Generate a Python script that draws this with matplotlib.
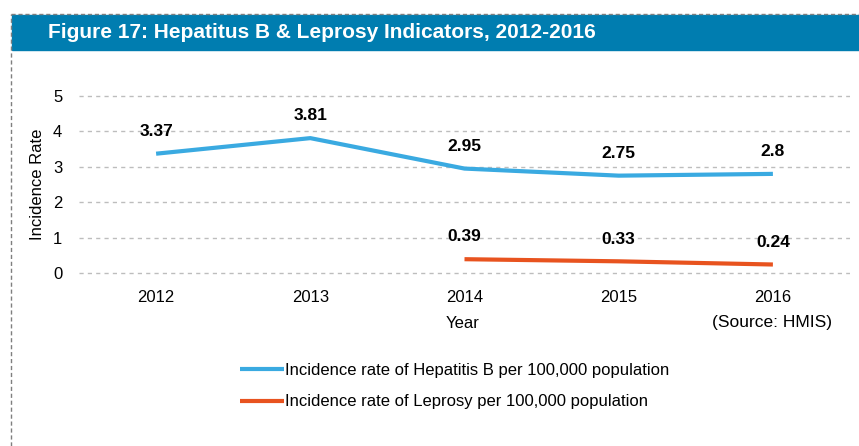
import matplotlib.pyplot as plt
from matplotlib.lines import Line2D
from matplotlib.patches import Rectangle

years = ["2012", "2013", "2014", "2015", "2016"]
hep_b = [3.37, 3.81, 2.95, 2.75, 2.8]
leprosy_years = ["2014", "2015", "2016"]
leprosy = [0.39, 0.33, 0.24]
yticks = [0, 1, 2, 3, 4, 5]

blue = "#3AAAE1"
orange = "#E8531F"
banner = "#007DB0"

plt.rcParams["font.family"] = ["Liberation Sans", "DejaVu Sans"]

W, H = 859, 446
fig = plt.figure(figsize=(W / 100, H / 100), dpi=100)

# banner + dashed frame
fig.patches.append(Rectangle((12 / W, 1 - 50 / H), 1, 35 / H, transform=fig.transFigure,
                             color=banner, zorder=0))
fig.text(48 / W, 1 - 33 / H, "Figure 17: Hepatitus B & Leprosy Indicators, 2012-2016",
         color="white", fontsize=15, fontweight="bold", va="center", ha="left")
fig.lines.append(Line2D([11 / W, 1], [1 - 14 / H, 1 - 14 / H], transform=fig.transFigure,
                        color="#7f7f7f", lw=1, ls=(0, (3, 2))))
fig.lines.append(Line2D([11 / W, 11 / W], [0, 1 - 14 / H], transform=fig.transFigure,
                        color="#7f7f7f", lw=1, ls=(0, (3, 2))))

# axes: y=0 at 273px, y=5 at 96px
unit = 177 / 5
ylo, yhi = -0.05, 5.05
top_px = 96 - (yhi - 5) * unit
bot_px = 273 + (0 - ylo) * unit
ax = fig.add_axes([79 / W, 1 - bot_px / H, (850 - 79) / W, (bot_px - top_px) / H])
ax.set_xlim(-0.5, 4.5)
ax.set_ylim(ylo, yhi)

xpos = {y: i for i, y in enumerate(years)}
ax.plot([xpos[y] for y in years], hep_b, color=blue, lw=3, solid_capstyle="butt",
        label="Incidence rate of Hepatitis B per 100,000 population")
ax.plot([xpos[y] for y in leprosy_years], leprosy, color=orange, lw=3, solid_capstyle="butt",
        label="Incidence rate of Leprosy per 100,000 population")

for y, v in zip(years, hep_b):
    ax.annotate(f"{v:g}", (xpos[y], v), xytext=(0, 16), textcoords="offset points",
                ha="center", va="center", fontsize=12.5, fontweight="bold")
for y, v in zip(leprosy_years, leprosy):
    ax.annotate(f"{v:g}", (xpos[y], v), xytext=(0, 16), textcoords="offset points",
                ha="center", va="center", fontsize=12.5, fontweight="bold")

ax.set_xticks(range(len(years)))
ax.set_xticklabels(years)
ax.set_yticks(yticks)
ax.tick_params(length=0, labelsize=12)
ax.tick_params(axis="x", pad=11)
ax.tick_params(axis="y", pad=12)
ax.grid(axis="y", color="#bdbdbd", ls=(0, (3, 3)), lw=1)
for s in ax.spines.values():
    s.set_visible(False)

ax.set_ylabel("Incidence Rate", fontsize=12, labelpad=6)
fig.text(463 / W, 1 - 323 / H, "Year", fontsize=12, ha="center", va="center")
fig.text(832 / W, 1 - 323 / H, "(Source: HMIS)", fontsize=12.5, ha="right", va="center")

fig.legend(loc="center", bbox_to_anchor=(455 / W, 1 - 386 / H), frameon=False,
           fontsize=12, handlelength=2.6, handletextpad=0.1, labelspacing=1.0)

fig.savefig("out.png", dpi=100)
